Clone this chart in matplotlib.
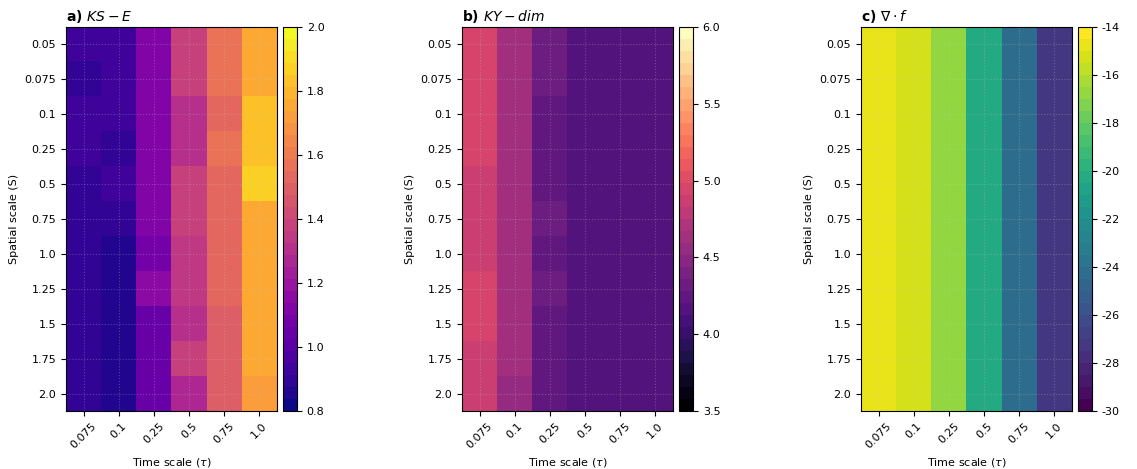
import numpy as np
import matplotlib
matplotlib.use("Agg")
import matplotlib.pyplot as plt

time_scales = ["0.075", "0.1", "0.25", "0.5", "0.75", "1.0"]
spatial_scales = ["0.05", "0.075", "0.1", "0.25", "0.5", "0.75", "1.0", "1.25", "1.5", "1.75", "2.0"]

ks_e = [
    [0.93, 0.93, 1.12, 1.37, 1.57, 1.77],
    [0.88, 0.93, 1.12, 1.37, 1.57, 1.77],
    [0.93, 0.93, 1.13, 1.32, 1.53, 1.83],
    [0.95, 0.91, 1.13, 1.32, 1.57, 1.83],
    [0.91, 0.93, 1.10, 1.37, 1.53, 1.85],
    [0.89, 0.91, 1.13, 1.37, 1.53, 1.77],
    [0.89, 0.87, 1.08, 1.34, 1.53, 1.77],
    [0.89, 0.87, 1.15, 1.34, 1.53, 1.77],
    [0.89, 0.87, 1.05, 1.30, 1.50, 1.77],
    [0.89, 0.87, 1.06, 1.40, 1.50, 1.77],
    [0.89, 0.87, 1.06, 1.28, 1.50, 1.73],
]

ky_dim = [
    [4.95, 4.65, 4.33, 4.20, 4.20, 4.14],
    [4.95, 4.65, 4.33, 4.20, 4.20, 4.14],
    [4.95, 4.65, 4.22, 4.20, 4.15, 4.14],
    [4.95, 4.65, 4.22, 4.20, 4.15, 4.14],
    [4.85, 4.65, 4.22, 4.20, 4.15, 4.14],
    [4.85, 4.65, 4.30, 4.20, 4.15, 4.14],
    [4.85, 4.65, 4.22, 4.20, 4.15, 4.14],
    [4.98, 4.65, 4.30, 4.20, 4.15, 4.14],
    [4.98, 4.65, 4.22, 4.20, 4.15, 4.14],
    [4.85, 4.65, 4.22, 4.20, 4.15, 4.14],
    [4.85, 4.58, 4.22, 4.20, 4.15, 4.14],
]

div_f_by_time = [-14.6, -15.2, -16.9, -20.4, -24.1, -27.1]
div_f = [list(div_f_by_time) for _ in spatial_scales]

panels = [
    (ks_e, "plasma", 0.8, 2.0, np.arange(0.8, 2.01, 0.2), r"a) $KS-E$", "{:.1f}"),
    (ky_dim, "magma", 3.5, 6.0, np.arange(3.5, 6.01, 0.5), r"b) $KY-dim$", "{:.1f}"),
    (div_f, "viridis", -30, -14, np.arange(-30, -13, 2), r"c) $\nabla\cdot f$", "{:.0f}"),
]

W, H = 1137, 469
fig = plt.figure(figsize=(W / 100, H / 100), dpi=100)

ax_lefts = [66, 462, 861]
ax_w = 211
cb_gap = 6
cb_w = 14
top, bottom = 27, 411

for (data, cmap_name, vmin, vmax, cticks, title, fmt), left in zip(panels, ax_lefts):
    ax = fig.add_axes([left / W, 1 - bottom / H, ax_w / W, (bottom - top) / H])
    cax = fig.add_axes([(left + ax_w + cb_gap) / W, 1 - bottom / H, cb_w / W, (bottom - top) / H])
    cmap = plt.get_cmap(cmap_name, 32)
    arr = np.array(data)
    im = ax.imshow(arr, cmap=cmap, vmin=vmin, vmax=vmax, aspect="auto",
                   interpolation="nearest")
    ax.set_xticks(range(len(time_scales)))
    ax.set_xticklabels(time_scales, rotation=45, fontsize=8)
    ax.set_yticks(range(len(spatial_scales)))
    ax.set_yticklabels(spatial_scales, fontsize=8)
    ax.grid(True, linestyle=":", color="#c8c8c8", alpha=0.3, linewidth=0.8)
    ax.set_xlabel(r"Time scale ($\tau$)", fontsize=8)
    ax.set_ylabel("Spatial scale (S)", fontsize=8)
    ax.set_title(title, loc="left", fontsize=10, fontweight="bold", pad=4)
    cb = fig.colorbar(im, cax=cax, ticks=cticks)
    cb.ax.tick_params(labelsize=8)
    cb.ax.set_yticklabels([fmt.format(t) for t in cticks])

fig.savefig("out.png", dpi=100)
